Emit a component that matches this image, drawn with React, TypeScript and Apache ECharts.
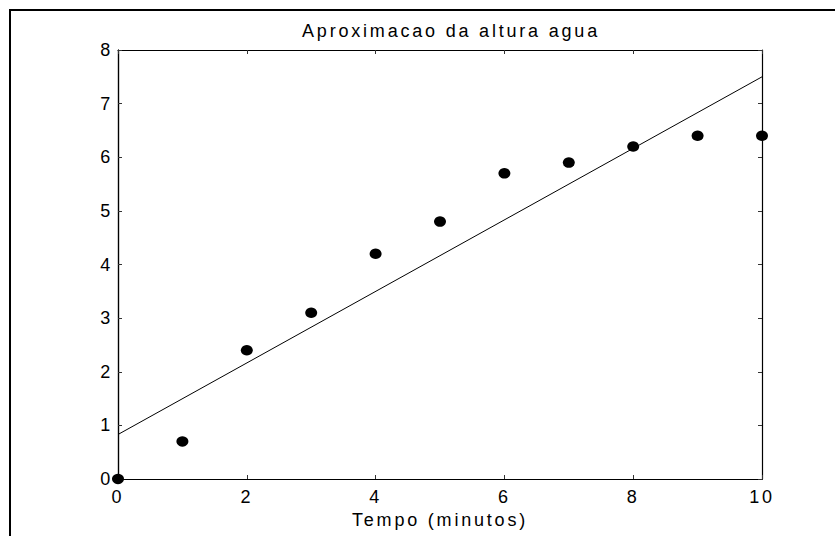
import React, { useEffect, useRef } from "react";
import * as echarts from "echarts";

const titleText = "Aproximacao da altura agua";
const xName = "Tempo (minutos)";
const tempo = [0, 1, 2, 3, 4, 5, 6, 7, 8, 9, 10];
const altura = [0, 0.7, 2.4, 3.1, 4.2, 4.8, 5.7, 5.9, 6.2, 6.4, 6.4];
const fitX = [0, 10];
const fitY = [0.83, 7.5];
const xMin = 0, xMax = 10, xStep = 2;
const yMin = 0, yMax = 8, yStep = 1;

const FONT = "'Liberation Sans', Arial, sans-serif";

const mkLine = () => ({ show: true, onZero: false, lineStyle: { color: "#000", width: 1.2 } });
const mkTick = () => ({ show: true, inside: true, length: 4, lineStyle: { color: "#333", width: 1 } });
const noTick = () => ({ show: false });

export default function App() {
  const ref = useRef<HTMLDivElement>(null);
  useEffect(() => {
    if (!ref.current) return;
    const chart = echarts.init(ref.current, null, { renderer: "svg" });
    const gridRect = { left: 118, right: 73, top: 50, bottom: 57, containLabel: false, outerBoundsMode: "none" };
    const xBase = { type: "value", min: xMin, max: xMax, interval: xStep, splitLine: { show: false } };
    const yBase = { type: "value", min: yMin, max: yMax, interval: yStep, splitLine: { show: false } };
    chart.setOption({
      animation: false,
      backgroundColor: "#fff",
      textStyle: { fontFamily: FONT },
      title: {
        text: titleText,
        left: 446,
        top: 17,
        textAlign: "center",
        textStyle: { fontFamily: FONT, fontSize: 18, fontWeight: "normal", color: "#000" },
      },
      grid: [{ ...gridRect }, { ...gridRect }],
      xAxis: [
        {
          ...xBase,
          gridIndex: 0,
          name: xName,
          nameLocation: "middle",
          nameGap: 31,
          nameTextStyle: { fontFamily: FONT, fontSize: 18, color: "#000" },
          axisLine: mkLine(),
          axisTick: noTick(),
          axisLabel: { fontFamily: FONT, fontSize: 18, color: "#000", margin: 9 },
        },
        {
          ...xBase,
          gridIndex: 0,
          position: "top",
          axisLine: mkLine(),
          axisTick: mkTick(),
          axisLabel: { show: false },
        },
        {
          ...xBase,
          gridIndex: 1,
          position: "bottom",
          axisLine: mkLine(),
          axisTick: mkTick(),
          axisLabel: { show: false },
        },
      ],
      yAxis: [
        {
          ...yBase,
          gridIndex: 0,
          axisLine: mkLine(),
          axisTick: noTick(),
          axisLabel: { fontFamily: FONT, fontSize: 18, color: "#000", margin: 5 },
        },
        {
          ...yBase,
          gridIndex: 0,
          position: "right",
          axisLine: mkLine(),
          axisTick: mkTick(),
          axisLabel: { show: false },
        },
        {
          ...yBase,
          gridIndex: 1,
          position: "left",
          axisLine: mkLine(),
          axisTick: mkTick(),
          axisLabel: { show: false },
        },
      ],
      graphic: [
        { type: "line", shape: { x1: 9, y1: 10, x2: 835, y2: 10 }, style: { stroke: "#000", lineWidth: 2 }, silent: true },
        { type: "line", shape: { x1: 10, y1: 9, x2: 10, y2: 536 }, style: { stroke: "#000", lineWidth: 2 }, silent: true },
      ],
      series: [
        {
          type: "line",
          xAxisIndex: 0,
          yAxisIndex: 0,
          data: fitX.map((x, i) => [x, fitY[i]]),
          showSymbol: false,
          lineStyle: { color: "#000", width: 1 },
          z: 2,
        },
        {
          type: "scatter",
          xAxisIndex: 0,
          yAxisIndex: 0,
          data: tempo.map((x, i) => [x, altura[i]]),
          symbol: "circle",
          symbolSize: [12, 10.5],
          itemStyle: { color: "#000", opacity: 1 },
          z: 3,
        },
      ],
    });
    return () => chart.dispose();
  }, []);
  return (
    <div
      ref={ref}
      style={{ position: "absolute", left: 0, top: 0, width: 835, height: 536, letterSpacing: "2.8px" }}
    />
  );
}
